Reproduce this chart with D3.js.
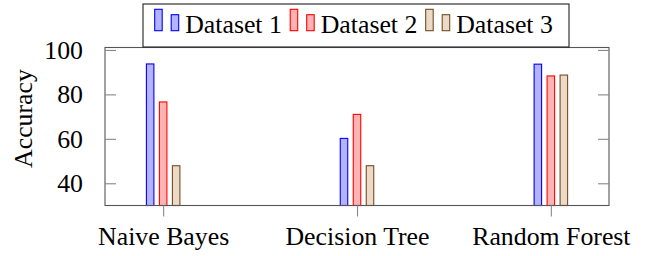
<!DOCTYPE html>
<html><head><meta charset="utf-8">
<script src="https://cdn.jsdelivr.net/npm/d3@7"></script>
<style>
body{margin:0;background:#fff;}
svg text{font-family:'Liberation Serif','Times New Roman',Times,serif;fill:#000;}
</style></head>
<body><svg id="c" width="652" height="256"></svg>
<script>
const categories = ["Naive Bayes", "Decision Tree", "Random Forest"];
const seriesNames = ["Dataset 1", "Dataset 2", "Dataset 3"];
const dataset1 = [93.7, 60.2, 93.6];
const dataset2 = [76.6, 71.0, 88.3];
const dataset3 = [47.9, 47.9, 88.7];
const yTicks = [40, 60, 80, 100];
const yLabel = "Accuracy";

const series = [dataset1, dataset2, dataset3];
const strokes = ["#0000ff", "#ff0000", "#734d26"];
const fills = ["#b3b3ff", "#ffb3b3", "#ecd9c6"];
const SERIF = "'Liberation Serif','Times New Roman',Times,serif";

const svg = d3.select("#c");
const L = 105, R = 609, T = 47.5, B = 205.5;
const FS = 25.8;

const x = d3.scaleLinear().domain([-0.3, 2.3]).range([L, R]);
const y = d3.scaleLinear().domain([30, 101.1]).range([B, T]);
const barW = 7.5, shift = 13;

series.forEach((vals, s) => {
  svg.append("g").selectAll("rect").data(vals).join("rect")
    .attr("x", (d, i) => x(i) + (s - 1) * shift - barW / 2)
    .attr("width", barW)
    .attr("y", d => y(d))
    .attr("height", d => y(30) - y(d))
    .attr("fill", fills[s]).attr("stroke", strokes[s]).attr("stroke-width", 1.1);
});

svg.append("rect").attr("x", L).attr("y", T).attr("width", R - L).attr("height", B - T)
  .attr("fill", "none").attr("stroke", "#555").attr("stroke-width", 1.1);

const yl = svg.append("g").attr("transform", `translate(${L},0)`)
  .call(d3.axisLeft(y).tickValues(yTicks).tickSizeInner(-11).tickSizeOuter(0).tickPadding(22));
yl.attr("font-family", null);
yl.select(".domain").remove();
yl.selectAll(".tick line").attr("stroke", "#888").attr("stroke-width", 1.1);
yl.selectAll(".tick text").style("font-size", FS + "px").style("font-family", SERIF).attr("fill", "#000")
  .attr("dy", "0.32em");
const yr = svg.append("g").attr("transform", `translate(${R},0)`)
  .call(d3.axisRight(y).tickValues(yTicks).tickSizeInner(-11).tickSizeOuter(0).tickFormat(""));
yr.select(".domain").remove();
yr.selectAll(".tick line").attr("stroke", "#888").attr("stroke-width", 1.1);

const xa = svg.append("g").attr("transform", `translate(0,${B})`)
  .call(d3.axisBottom(x).tickValues(d3.range(categories.length)).tickFormat(i => categories[i])
    .tickSizeInner(11).tickSizeOuter(0).tickPadding(10));
xa.attr("font-family", null);
xa.select(".domain").remove();
xa.selectAll(".tick line").attr("stroke", "#888").attr("stroke-width", 1.1);
xa.selectAll(".tick text").style("font-size", FS + "px").style("font-family", SERIF).attr("fill", "#000")
  .attr("dy", "0.71em");

svg.append("text").attr("transform", `translate(31.5,${(T + B) / 2 - 8}) rotate(-90)`)
  .attr("text-anchor", "middle").style("font-size", FS + "px").style("font-family", SERIF).text(yLabel);

svg.append("rect").attr("x", 143).attr("y", 4).attr("width", 426).attr("height", 43)
  .attr("fill", "#fff").attr("stroke", "#222").attr("stroke-width", 1.1);
seriesNames.forEach((name, s) => {
  const x0 = 154.7 + 135.5 * s;
  const g = svg.append("g");
  g.append("rect").attr("x", x0).attr("y", 9.3).attr("width", 7.5).attr("height", 21.4)
    .attr("fill", fills[s]).attr("stroke", strokes[s]).attr("stroke-width", 1.1);
  g.append("rect").attr("x", x0 + 16.5).attr("y", 14.7).attr("width", 7.5).attr("height", 16)
    .attr("fill", fills[s]).attr("stroke", strokes[s]).attr("stroke-width", 1.1);
  g.append("text").attr("x", x0 + 30.5).attr("y", 33.3).style("font-size", FS + "px").style("font-family", SERIF).text(name);
});
</script></body></html>
